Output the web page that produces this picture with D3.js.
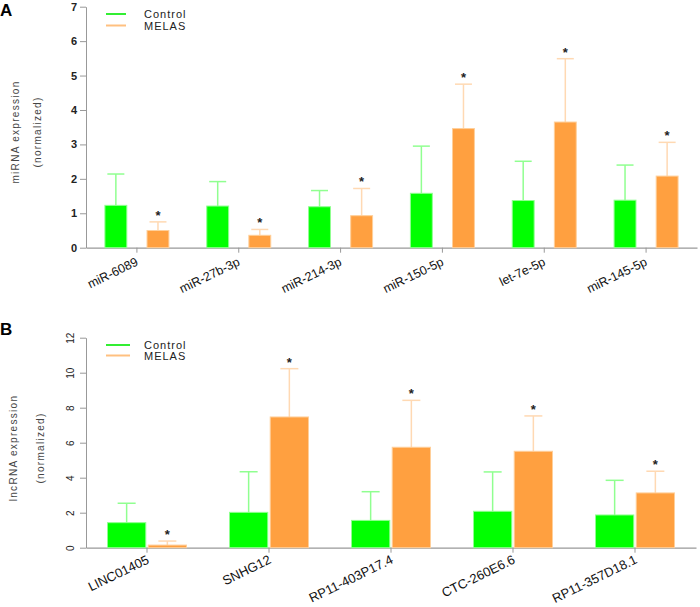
<!DOCTYPE html>
<html>
<head>
<meta charset="utf-8">
<script src="https://cdn.jsdelivr.net/npm/d3@7"></script>
<style>
body{margin:0;background:#fff;}
svg{display:block;font-family:"Liberation Sans",Arial,sans-serif;}
</style>
</head>
<body>
<svg id="c" width="700" height="607"></svg>
<script>
// Panel A data
const catsA = ["miR-6089","miR-27b-3p","miR-214-3p","miR-150-5p","let-7e-5p","miR-145-5p"];
const ctrlA = [1.23,1.21,1.19,1.58,1.37,1.38];
const ctrlErrA = [2.14,1.92,1.66,2.95,2.51,2.40];
const melasA = [0.50,0.36,0.93,3.46,3.65,2.08];
const melasErrA = [0.75,0.53,1.72,4.75,5.49,3.06];
const ticksA = [0,1,2,3,4,5,6,7];

// Panel B data
const catsB = ["LINC01405","SNHG12","RP11-403P17.4","CTC-260E6.6","RP11-357D18.1"];
const ctrlB = [1.43,2.02,1.56,2.08,1.87];
const ctrlErrB = [2.54,4.34,3.20,4.33,3.85];
const melasB = [0.15,7.47,5.74,5.51,3.13];
const melasErrB = [0.38,10.23,8.42,7.53,4.37];
const ticksB = [0,2,4,6,8,10,12];

const series = ["Control","MELAS"];
const fill = {Control:"#00ff00", MELAS:"#ffa040"};
const stroke = {Control:"#90ff90", MELAS:"#ffcf9a"};
const errCol = {Control:"#90ff90", MELAS:"#ffd9b3"};

const svg = d3.select("#c");

function panel(opt){
  const g = svg.append("g");
  const x = d3.scaleBand().domain(opt.cats).range([86, opt.xEnd]);
  const y = d3.scaleLinear().domain([0, opt.ymax]).range([opt.y0, opt.yTop]);
  const inner = d3.scaleBand().domain(series).range([-opt.groupW/2, opt.groupW/2]).paddingInner(opt.innerPad);

  // axes
  const ya = g.append("g").attr("transform","translate(86,0)")
    .call(d3.axisLeft(y).tickValues(opt.ticks).tickFormat(d3.format("d")).tickSize(6).tickPadding(opt.tickPad).tickSizeOuter(0));
  ya.select(".domain").attr("stroke","#999");
  ya.selectAll(".tick line").attr("stroke","#999");
  ya.selectAll(".tick text").attr("fill","#222").style("font-size",opt.tickFont+"px").style("font-weight","bold");
  if(opt.rotTicks){
    ya.selectAll(".tick text").attr("text-anchor","middle").attr("dy","0")
      .attr("transform","translate(-4,0) rotate(-90)").attr("x",0).attr("y",-8)
      .style("font-weight","normal");
  }

  const xa = g.append("g").attr("transform",`translate(0,${opt.y0})`)
    .call(d3.axisBottom(x).tickSize(5).tickSizeOuter(0).tickFormat(""));
  xa.select(".domain").attr("stroke","#999").attr("stroke-width",1.2);
  xa.selectAll(".tick line").attr("stroke","#999");

  // category labels
  g.selectAll(".cl").data(opt.cats).join("text")
    .attr("transform", d => `translate(${x(d)+x.bandwidth()/2+opt.labDx},${opt.y0+opt.labDy}) rotate(${opt.rot})`)
    .attr("text-anchor","end")
    .style("font-size",opt.catFont+"px")
    .attr("fill","#111")
    .text(d => d);

  const rows = opt.cats.map((c,i)=>({c, vals:[
    {s:"Control", v:opt.ctrl[i], e:opt.ctrlErr[i]},
    {s:"MELAS", v:opt.melas[i], e:opt.melasErr[i], star:true}
  ]}));

  const grp = g.selectAll(".grp").data(rows).join("g")
    .attr("transform", d => `translate(${x(d.c)+x.bandwidth()/2},0)`);

  const bw = inner.bandwidth();
  const cap = opt.cap;
  grp.each(function(d){
    const gg = d3.select(this);
    d.vals.forEach(p=>{
      const cx = inner(p.s) + bw/2;
      gg.append("line").attr("x1",cx).attr("x2",cx).attr("y1",y(p.v)).attr("y2",y(p.e))
        .attr("stroke",errCol[p.s]).attr("stroke-width",1.5);
      gg.append("line").attr("x1",cx-cap/2).attr("x2",cx+cap/2).attr("y1",y(p.e)).attr("y2",y(p.e))
        .attr("stroke",errCol[p.s]).attr("stroke-width",1.5);
      gg.append("rect").attr("x",inner(p.s)).attr("width",bw)
        .attr("y",y(p.v)).attr("height",y(0)-y(p.v))
        .attr("fill",fill[p.s]).attr("stroke",stroke[p.s]).attr("stroke-width",1);
      if(p.star){
        gg.append("text").attr("x",cx).attr("y",y(p.e)+opt.starDy).attr("text-anchor","middle")
          .style("font-size","13px").style("font-weight","bold").attr("fill","#222").text("*");
      }
    });
  });

  // y labels
  const yl = g.append("g").attr("transform",`translate(0,${opt.ylabY})`);
  opt.ylab.forEach((t,i)=>{
    yl.append("text").attr("transform",`translate(${opt.ylabX[i]},0) rotate(-90)`)
      .attr("text-anchor","middle").style("font-size","10px").style("letter-spacing","1.3px")
      .attr("fill","#444").text(t);
  });

  // legend
  const lg = g.append("g");
  series.forEach((s,i)=>{
    const ly = opt.legY + i*opt.legGap;
    lg.append("line").attr("x1",106).attr("x2",opt.legX2).attr("y1",ly).attr("y2",ly)
      .attr("stroke", i===0 ? "#33ee33" : "#ffc080").attr("stroke-width",2);
    lg.append("text").attr("x",144).attr("y",ly+4).style("font-size","11px").style("letter-spacing","1px")
      .attr("fill","#222").text(s);
  });

  // panel letter
  g.append("text").attr("x",0).attr("y",opt.letterY).style("font-size","17px").style("font-weight","bold")
    .attr("fill","#000").text(opt.letter);
}

panel({cats:catsA, ctrl:ctrlA, ctrlErr:ctrlErrA, melas:melasA, melasErr:melasErrA, ticks:ticksA,
  ymax:7, y0:247.7, yTop:6.7, xEnd:697, groupW:64, innerPad:0.48, cap:17, tickPad:3, tickFont:11,
  rotTicks:false, rot:-26, catFont:12.5, labDx:2, labDy:17, starDy:-2, ylab:["miRNA expression","(normalized)"], ylabX:[19,41], ylabY:132,
  legY:14, legGap:11.5, legX2:126, letter:"A", letterY:16});

panel({cats:catsB, ctrl:ctrlB, ctrlErr:ctrlErrB, melas:melasB, melasErr:melasErrB, ticks:ticksB,
  ymax:12, y0:547.7, yTop:337.7, xEnd:696, groupW:79, innerPad:0.06, cap:18, tickPad:3, tickFont:10,
  rotTicks:true, rot:-26, catFont:13, labDx:3, labDy:15, starDy:-2, ylab:["lncRNA expression","(normalized)"], ylabX:[17,44], ylabY:448,
  legY:345, legGap:10.5, legX2:130, letter:"B", letterY:335});
</script>
</body>
</html>
